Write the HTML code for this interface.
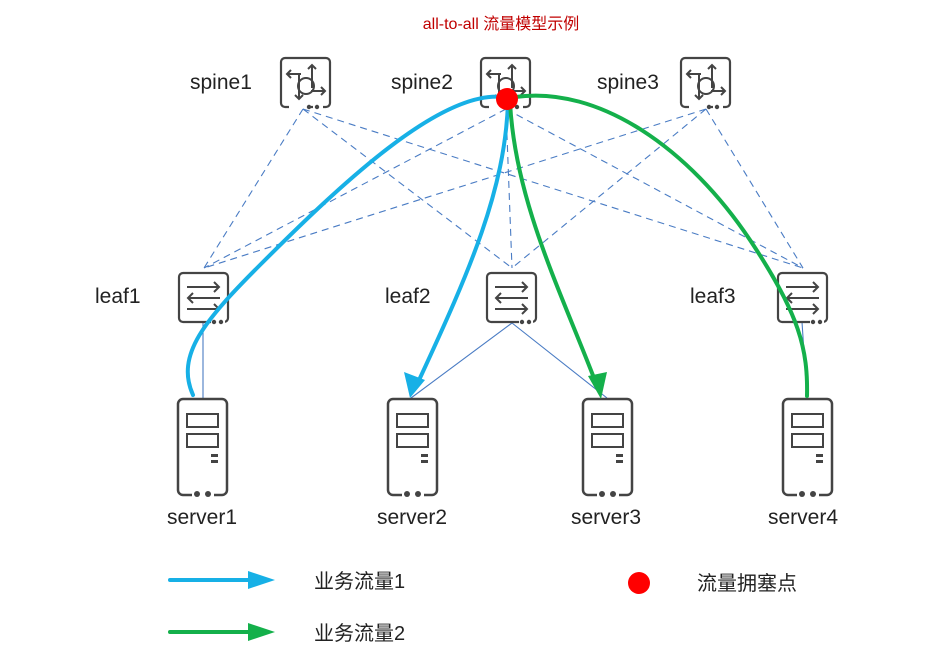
<!DOCTYPE html>
<html><head><meta charset="utf-8"><style>
html,body{margin:0;padding:0;background:#fff;}
svg{display:block;}
text{font-family:"Liberation Sans","Noto Sans CJK SC",sans-serif;}
</style></head><body>
<svg width="951" height="667" viewBox="0 0 951 667" xmlns="http://www.w3.org/2000/svg">
<defs>
<g id="spine">
<rect x="0" y="0" width="49" height="49" rx="4" fill="#fff" stroke="#444" stroke-width="2.2"/>
<path d="M8,49 h18 M32,49 h10" stroke="#fff" stroke-width="3"/>
<circle cx="28" cy="49" r="2.2" fill="#444"/><circle cx="36" cy="49" r="2.2" fill="#444"/>
<g fill="none" stroke="#444" stroke-width="2">
<path d="M31,30 v-23 M27,11 l4,-4 l4,4"/>
<path d="M20,16 h-14 M10,12 l-4,4 l4,4"/>
<path d="M18,16 v25 M14,37 l4,4 l4,-4"/>
<path d="M30,33 h14 M40,29 l4,4 l-4,4"/>
<circle cx="25" cy="28" r="8"/>
</g>
</g>
<g id="leaf">
<rect x="0" y="0" width="49" height="49" rx="4" fill="#fff" stroke="#444" stroke-width="2.2"/>
<path d="M32,49 h14" stroke="#fff" stroke-width="3"/>
<circle cx="35" cy="49" r="2.2" fill="#444"/><circle cx="42" cy="49" r="2.2" fill="#444"/>
<g fill="none" stroke="#444" stroke-width="2">
<path d="M8,14 h32 M35,9 l5,5 l-5,5"/>
<path d="M41,25 h-32 M14,20 l-5,5 l5,5"/>
<path d="M8,36 h32 M35,31 l5,5 l-5,5"/>
</g>
</g>
<g id="server">
<rect x="0" y="0" width="49" height="96" rx="5" fill="#fff" stroke="#444" stroke-width="2.5"/>
<path d="M14,96 h22" stroke="#fff" stroke-width="3"/>
<circle cx="19" cy="95" r="3" fill="#444"/><circle cx="30" cy="95" r="3" fill="#444"/>
<rect x="9" y="15" width="31" height="13" fill="none" stroke="#444" stroke-width="2"/>
<rect x="9" y="35" width="31" height="13" fill="none" stroke="#444" stroke-width="2"/>
<rect x="33" y="55" width="7" height="3" fill="#444"/><rect x="33" y="61" width="7" height="3" fill="#444"/>
</g>
</defs>

<text x="501" y="29" font-size="16" fill="#c00000" text-anchor="middle">all-to-all 流量模型示例</text>

<g stroke="#4a7cc4" stroke-width="1.1" stroke-dasharray="7,5" fill="none">
<path d="M303,109 L204,268 M303,109 L512,268 M303,109 L803,268"/>
<path d="M506,109 L204,268 M506,109 L512,268 M506,109 L803,268"/>
<path d="M706,109 L204,268 M706,109 L512,268 M706,109 L803,268"/>
</g>
<g stroke="#4a7cc4" stroke-width="1.1" fill="none">
<path d="M203,322 L203,398 M512,323 L411,398 M512,323 L607,398 M802,322 L807,398"/>
</g>

<use href="#spine" x="281" y="58"/>
<use href="#spine" x="481" y="58"/>
<use href="#spine" x="681" y="58"/>
<use href="#leaf" x="179" y="273"/>
<use href="#leaf" x="487" y="273"/>
<use href="#leaf" x="778" y="273"/>
<use href="#server" x="178" y="399"/>
<use href="#server" x="388" y="399"/>
<use href="#server" x="583" y="399"/>
<use href="#server" x="783" y="399"/>

<g font-size="21" fill="#222">
<text x="190" y="89">spine1</text>
<text x="391" y="89">spine2</text>
<text x="597" y="89">spine3</text>
<text x="95" y="303">leaf1</text>
<text x="385" y="303">leaf2</text>
<text x="690" y="303">leaf3</text>
<text x="167" y="524">server1</text>
<text x="377" y="524">server2</text>
<text x="571" y="524">server3</text>
<text x="768" y="524">server4</text>
</g>

<g fill="none" stroke-width="4" stroke-linecap="round">
<path d="M193,395 C175,355 205,320 260,265 C340,185 440,90 503,97" stroke="#17b0e6"/>
<path d="M508,102 C505,190 470,270 420,378" stroke="#17b0e6"/>
<path d="M510,102 C515,200 560,290 594,378" stroke="#14b04b"/>
<path d="M515,97 C600,85 690,150 750,240 C800,315 808,350 807,396" stroke="#14b04b"/>
</g>
<polygon points="410,398 404,372 425,380" fill="#17b0e6"/>
<polygon points="601,399 588,376 607,372" fill="#14b04b"/>
<circle cx="507" cy="99" r="11" fill="#f00"/>

<line x1="170" y1="580" x2="252" y2="580" stroke="#17b0e6" stroke-width="4" stroke-linecap="round"/>
<polygon points="248,571 275,580 248,589" fill="#17b0e6"/>
<line x1="170" y1="632" x2="252" y2="632" stroke="#14b04b" stroke-width="4" stroke-linecap="round"/>
<polygon points="248,623 275,632 248,641" fill="#14b04b"/>
<circle cx="639" cy="583" r="11" fill="#f00"/>
<g font-size="20" fill="#222">
<text x="314" y="588">业务流量1</text>
<text x="314" y="640">业务流量2</text>
<text x="697" y="590">流量拥塞点</text>
</g>
</svg>
</body></html>
